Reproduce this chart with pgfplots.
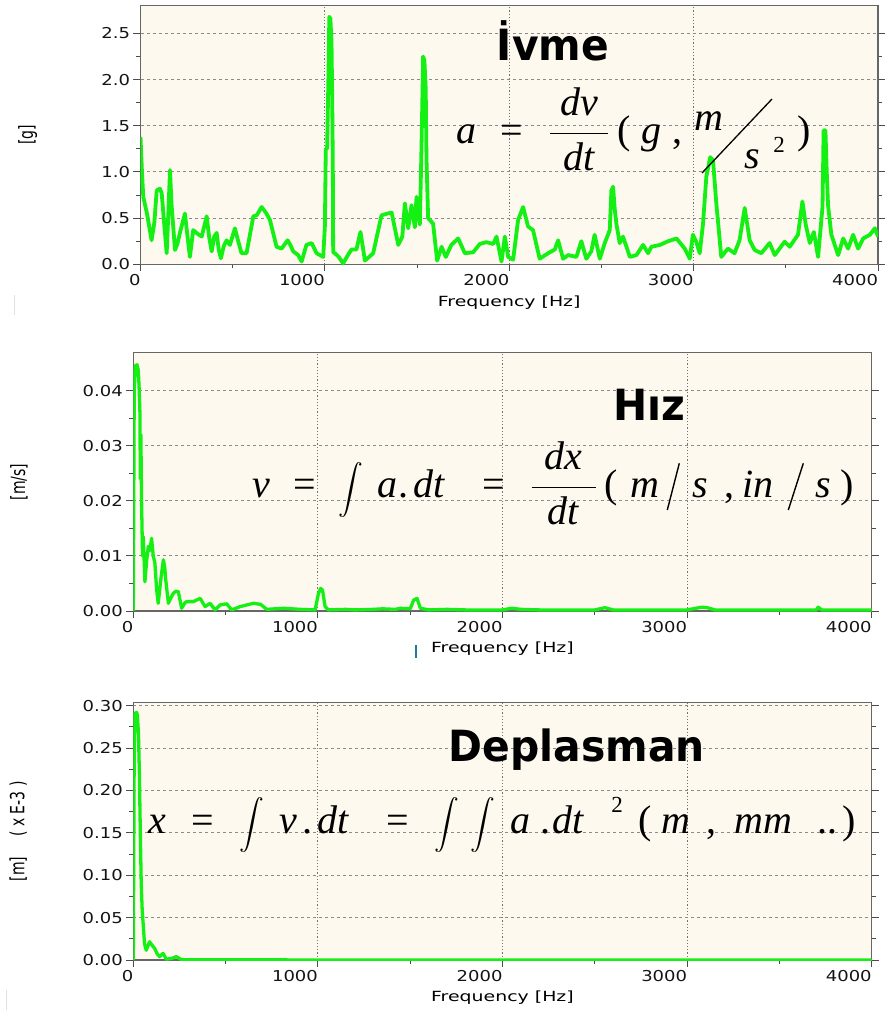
\RequirePackage{fix-cm}
\documentclass[border=0pt]{standalone}
\usepackage{amsmath}
\usepackage{fontspec}
\usepackage{graphicx}
\usepackage{pgfplots}
\pgfplotsset{compat=1.18}
\setmainfont{DejaVu Sans}
\newfontfamily\tickfont[FakeStretch=1.2]{DejaVu Sans}
\newfontfamily\labfont[FakeStretch=1.35]{DejaVu Sans}
\newfontfamily\ylabfont{DejaVu Sans}
\newfontfamily\titlefont[FakeStretch=0.95]{DejaVu Sans}
\newfontfamily\tnr{Liberation Serif}
\definecolor{cream}{RGB}{253,249,238}
\definecolor{sig}{RGB}{20,240,20}
\definecolor{cursor}{RGB}{30,120,160}
\newcommand\I[1]{\mbox{\tnr\itshape #1}}
\newcommand\U[1]{\mbox{\tnr #1}}
\newcommand\FS{\fontsize{40bp}{48bp}\selectfont}
\newcommand\INT[1]{{\fontsize{#1}{#1}\selectfont$\displaystyle\int$}}
\newcommand\TF{\titlefont\bfseries\fontsize{43bp}{50bp}\selectfont}
\newcommand\YL[1]{\scalebox{1}[1.4]{#1}}

\pgfplotsset{
  spec/.style={
    scale only axis, anchor=south west,
    xmin=0, xmax=4000,
    xtick={0,1000,2000,3000,4000}, minor x tick num=1,
    minor y tick num=1,
    tick align=outside, xtick pos=left, ytick pos=both,
    major tick length=7bp, minor tick length=4bp,
    tick style={black!70, line width=0.9bp},
    axis line style={black!60, line width=1.2bp},
    axis background/.style={fill=cream},
    xmajorgrids, ymajorgrids,
    x grid style={black!55, line width=0.9bp, dash pattern=on 1.2bp off 2bp},
    y grid style={black!45, line width=0.9bp, dash pattern=on 3bp off 3bp},
    tick label style={font=\tickfont\fontsize{15bp}{18bp}\selectfont, text=black!92},
    xticklabel style={anchor=north east, xshift=3.5bp},
    /pgf/number format/assume math mode=true,
    /pgf/number format/1000 sep={},
    scaled y ticks=false, scaled x ticks=false,
    xlabel={Frequency [Hz]},
    xlabel style={font=\labfont\fontsize{14bp}{17bp}\selectfont, at={(axis description cs:0.5,-0.147)}, anchor=center},
    ylabel style={font=\ylabfont\fontsize{14bp}{17bp}\selectfont, anchor=center},
    every axis plot/.append style={sig, line join=round},
  },
}
\tikzset{
  fb/.style={anchor=base, inner sep=0pt, text=black},
  fbw/.style={anchor=base west, inner sep=0pt, text=black},
}

\begin{document}
\begin{tikzpicture}
\useasboundingbox (0,0) rectangle (888bp,-1017bp);

% ---------------- Panel 1: acceleration ----------------
\begin{axis}[spec, at={(140.5bp,-264.3bp)}, width=737.5bp, height=258.6bp,
  ymin=0, ymax=2.8, ytick={0,0.5,1,1.5,2,2.5},
  yticklabel style={/pgf/number format/fixed, /pgf/number format/fixed zerofill, /pgf/number format/precision=1},
  ylabel={\YL{[g]}}, ylabel style={at={(axis description cs:-0.153,0.5)}}]
\addplot[line width=3.8bp] coordinates {
(0,1.38) (8,1.0) (15,0.73) (35,0.55) (60,0.26) (75,0.45) (88,0.80) (105,0.82) (115,0.77)
(128,0.45) (142,0.12) (152,0.6) (160,1.02) (168,0.66) (187,0.155) (200,0.22) (215,0.35)
(241,0.55) (255,0.3) (268,0.08) (286,0.37) (310,0.33) (332,0.30) (359,0.52) (372,0.3)
(386,0.14) (400,0.3) (413,0.34) (425,0.15) (436,0.065) (452,0.2) (467,0.26) (485,0.21)
(512,0.39) (530,0.25) (548,0.12) (575,0.12) (612,0.52) (630,0.53) (657,0.62) (680,0.56)
(702,0.48) (738,0.19) (765,0.17) (798,0.26) (815,0.2) (828,0.14) (855,0.10) (874,0.03)
(900,0.21) (928,0.23) (955,0.12) (991,0.08) (1000,0.41) (1005,1.25) (1012,1.25) (1020,2.1)
(1024,2.68) (1030,2.66) (1036,2.41) (1040,1.76) (1043,1.1) (1045,0.13) (1054,0.12)
(1075,0.08) (1099,0.01) (1125,0.1) (1144,0.16) (1171,0.16) (1193,0.35) (1205,0.2)
(1217,0.04) (1240,0.08) (1262,0.12) (1307,0.53) (1340,0.55) (1362,0.56) (1398,0.21)
(1420,0.3) (1434,0.66) (1452,0.39) (1470,0.64) (1488,0.40) (1497,0.73) (1515,0.43)
(1524,1.26) (1533,2.25) (1540,2.2) (1547,1.9) (1551,1.15) (1560,0.5) (1587,0.44)
(1609,0.04) (1633,0.19) (1656,0.08) (1686,0.21) (1723,0.28) (1759,0.12) (1804,0.13)
(1840,0.22) (1876,0.24) (1913,0.22) (1931,0.30) (1958,0.03) (1976,0.30) (1994,0.08)
(2021,0.05) (2048,0.48) (2075,0.62) (2102,0.41) (2129,0.37) (2165,0.06) (2211,0.12)
(2247,0.16) (2265,0.26) (2292,0.06) (2319,0.10) (2364,0.08) (2391,0.25) (2418,0.06)
(2445,0.14) (2463,0.32) (2491,0.06) (2518,0.23) (2545,0.37) (2554,0.80) (2563,0.84)
(2572,0.6) (2581,0.44) (2599,0.23) (2617,0.30) (2654,0.08) (2690,0.10) (2726,0.21)
(2753,0.12) (2771,0.19) (2817,0.21) (2862,0.25) (2907,0.28) (2952,0.17) (2979,0.06)
(2996,0.32) (3014,0.245) (3033,0.12) (3051,0.44) (3069,0.95) (3090,1.16) (3105,1.13)
(3123,0.66) (3150,0.08) (3186,0.17) (3222,0.12) (3249,0.26) (3277,0.61) (3304,0.26)
(3331,0.155) (3367,0.12) (3412,0.23) (3440,0.10) (3494,0.245) (3521,0.19) (3566,0.32)
(3590,0.68) (3608,0.43) (3630,0.23) (3652,0.35) (3675,0.08) (3699,0.62) (3705,1.45)
(3715,1.45) (3722,1.0) (3729,0.64) (3747,0.32) (3784,0.10) (3811,0.28) (3838,0.17)
(3865,0.32) (3892,0.17) (3920,0.28) (3956,0.32) (3983,0.39) (4000,0.30)
};
\end{axis}

% ---------------- Panel 2: velocity ----------------
\begin{axis}[spec, at={(133.3bp,-611bp)}, width=738.4bp, height=258.3bp,
  ymin=0, ymax=0.04688, ytick={0,0.01,0.02,0.03,0.04},
  yticklabel style={/pgf/number format/fixed, /pgf/number format/fixed zerofill, /pgf/number format/precision=2},
  ylabel={\YL{[m/s]}}, ylabel style={at={(axis description cs:-0.155,0.5)}}]
\addplot[line width=3.3bp] coordinates {
(0,0.0) (5,0.040) (11,0.0445) (20,0.0447) (27,0.0437) (31,0.041) (36,0.0359) (38,0.024)
(41,0.032) (45,0.0195) (50,0.010) (54,0.0135) (63,0.0053) (72,0.009) (81,0.0117) (90,0.011)
(99,0.0132) (108,0.010) (117,0.0087) (126,0.004) (135,0.0014) (150,0.006) (163,0.0093)
(170,0.008) (176,0.0056) (190,0.0014) (205,0.0025) (217,0.0032) (230,0.0036) (244,0.0035)
(262,0.0005) (280,0.0015) (289,0.0017) (325,0.0017) (362,0.0023) (389,0.0008) (416,0.0014)
(443,0.0002) (470,0.0011) (506,0.0013) (533,0.0002) (579,0.0008) (651,0.0014) (690,0.0012)
(723,0.0003) (814,0.0005) (904,0.0003) (985,0.0002) (1003,0.0032) (1015,0.0041)
(1025,0.0038) (1039,0.0008) (1057,0.0002) (1150,0.0003) (1200,0.0002) (1300,0.0003)
(1350,0.0004) (1420,0.0003) (1446,0.0005) (1500,0.0004) (1519,0.0020) (1537,0.0023)
(1555,0.0005) (1600,0.0002) (1700,0.0003) (1800,0.0002) (1900,0.0002) (2000,0.0002)
(2050,0.0005) (2100,0.0003) (2200,0.0002) (2300,0.0002) (2400,0.0002) (2500,0.0002)
(2555,0.0006) (2600,0.0002) (2700,0.0002) (2800,0.0002) (2900,0.0002) (3000,0.0002)
(3080,0.0007) (3110,0.0006) (3150,0.0002) (3300,0.0002) (3500,0.0002) (3700,0.0002)
(3710,0.0007) (3730,0.0002) (3900,0.0002) (4000,0.0002)
};
\end{axis}

% ---------------- Panel 3: displacement ----------------
\begin{axis}[spec, at={(133.3bp,-960bp)}, width=738.4bp, height=257.3bp,
  ymin=0, ymax=0.3034, ytick={0,0.05,0.1,0.15,0.2,0.25,0.3},
  yticklabel style={/pgf/number format/fixed, /pgf/number format/fixed zerofill, /pgf/number format/precision=2},
  ylabel={\YL{[m]\hspace{20bp}( x E-3 )}}, ylabel style={at={(axis description cs:-0.156,0.5)}}]
\addplot[line width=3.3bp] coordinates {
(0,0.0) (5,0.25) (10,0.291) (18,0.292) (22,0.289) (28,0.267) (33,0.22) (38,0.15) (43,0.09)
(48,0.06) (52,0.047) (61,0.019) (70,0.0115) (80,0.017) (88,0.0215) (100,0.018) (116,0.0135)
(130,0.007) (143,0.0039) (161,0.0079) (179,0.001) (210,0.002) (233,0.004) (260,0.0005)
(300,0.0003) (500,0.0002) (1000,0.0001) (4000,0.0001)
};
\end{axis}

% ---------------- Titles ----------------
\node[fb] at (553bp,-60bp) {\TF İvme};
\node[fb] at (649bp,-420bp) {\TF Hız};
\node[fb] at (576.7bp,-761.7bp) {\TF Deplasman};

% ---------------- Formula 1 ----------------
\node[fb] at (466bp,-143bp) {\FS\I{a}};
\node[fb] at (512bp,-143bp) {\FS\U{=}};
\node[fb] at (579bp,-143bp) {\FS$\dfrac{\makebox[58bp]{\I{dv}}}{\makebox[58bp]{\I{dt}}}$};
\node[fb] at (624bp,-143bp) {\FS\U{(}};
\node[fb] at (651bp,-143bp) {\FS\I{g}};
\node[fb] at (677bp,-143bp) {\FS\U{,}};
\node[fb] at (709bp,-130bp) {\FS\I{m}};
\node[fb] at (752bp,-168bp) {\FS\I{s}};
\node[fb] at (779bp,-152bp) {\fontsize{23bp}{26bp}\selectfont\U{2}};
\node[fb] at (804bp,-143bp) {\FS\U{)}};
\draw[black, line width=1.3bp] (702bp,-173bp) -- (772bp,-99bp);

% ---------------- Formula 2 ----------------
\node[fb] at (261bp,-497bp) {\FS\I{v}};
\node[fb] at (305bp,-497bp) {\FS\U{=}};
\node[fb] at (351bp,-497bp) {\INT{29bp}};
\node[fb] at (387.5bp,-497bp) {\FS\I{a}};
\node[fbw] at (398bp,-497bp) {\FS\U{.}\hspace{5bp}\I{dt}};
\node[fb] at (494bp,-497bp) {\FS\U{=}};
\node[fb] at (563.5bp,-497bp) {\FS$\dfrac{\makebox[64bp]{\I{dx}}}{\makebox[64bp]{\I{dt}}}$};
\node[fb] at (611bp,-497bp) {\FS\U{(}};
\node[fb] at (644.5bp,-497bp) {\FS\I{m}};
\draw[black, line width=1.4bp] (667.3bp,-510bp) -- (679.3bp,-463.3bp);
\node[fb] at (700bp,-497bp) {\FS\I{s}};
\node[fb] at (729bp,-497bp) {\FS\U{,}};
\node[fb] at (758bp,-497bp) {\FS\I{in}};
\draw[black, line width=1.4bp] (788.3bp,-510bp) -- (803.3bp,-463.3bp);
\node[fb] at (823.5bp,-497bp) {\FS\I{s}};
\node[fb] at (847.5bp,-497bp) {\FS\U{)}};

% ---------------- Formula 3 ----------------
\node[fb] at (157bp,-833bp) {\FS\I{x}};
\node[fb] at (202.5bp,-833bp) {\FS\U{=}};
\node[fb] at (252bp,-833bp) {\INT{32bp}};
\node[fb] at (288bp,-833bp) {\FS\I{v}};
\node[fbw] at (302bp,-833bp) {\FS\U{.}\hspace{5bp}\I{dt}};
\node[fb] at (397.5bp,-833bp) {\FS\U{=}};
\node[fb] at (447bp,-833bp) {\INT{32bp}};
\node[fb] at (483bp,-833bp) {\INT{32bp}};
\node[fb] at (520bp,-833bp) {\FS\I{a}};
\node[fbw] at (540bp,-833bp) {\FS\U{.}\hspace{2bp}\I{dt}};
\node[fb] at (617bp,-812bp) {\fontsize{23bp}{26bp}\selectfont\U{2}};
\node[fb] at (645bp,-833bp) {\FS\U{(}};
\node[fb] at (676bp,-833bp) {\FS\I{m}};
\node[fb] at (711bp,-833bp) {\FS\U{,}};
\node[fb] at (763.5bp,-833bp) {\FS\I{mm}};
\node[fb] at (827.5bp,-833bp) {\FS\U{..}};
\node[fb] at (849.5bp,-833bp) {\FS\U{)}};

% ---------------- small cursor marks ----------------
\draw[cursor, line width=1.2bp] (416bp,-645bp) -- (416bp,-658bp);
\draw[black!12, line width=1bp] (14bp,-295bp) -- (14bp,-315bp);
\draw[black!12, line width=1bp] (6bp,-990bp) -- (6bp,-1010bp);
\end{tikzpicture}
\end{document}
